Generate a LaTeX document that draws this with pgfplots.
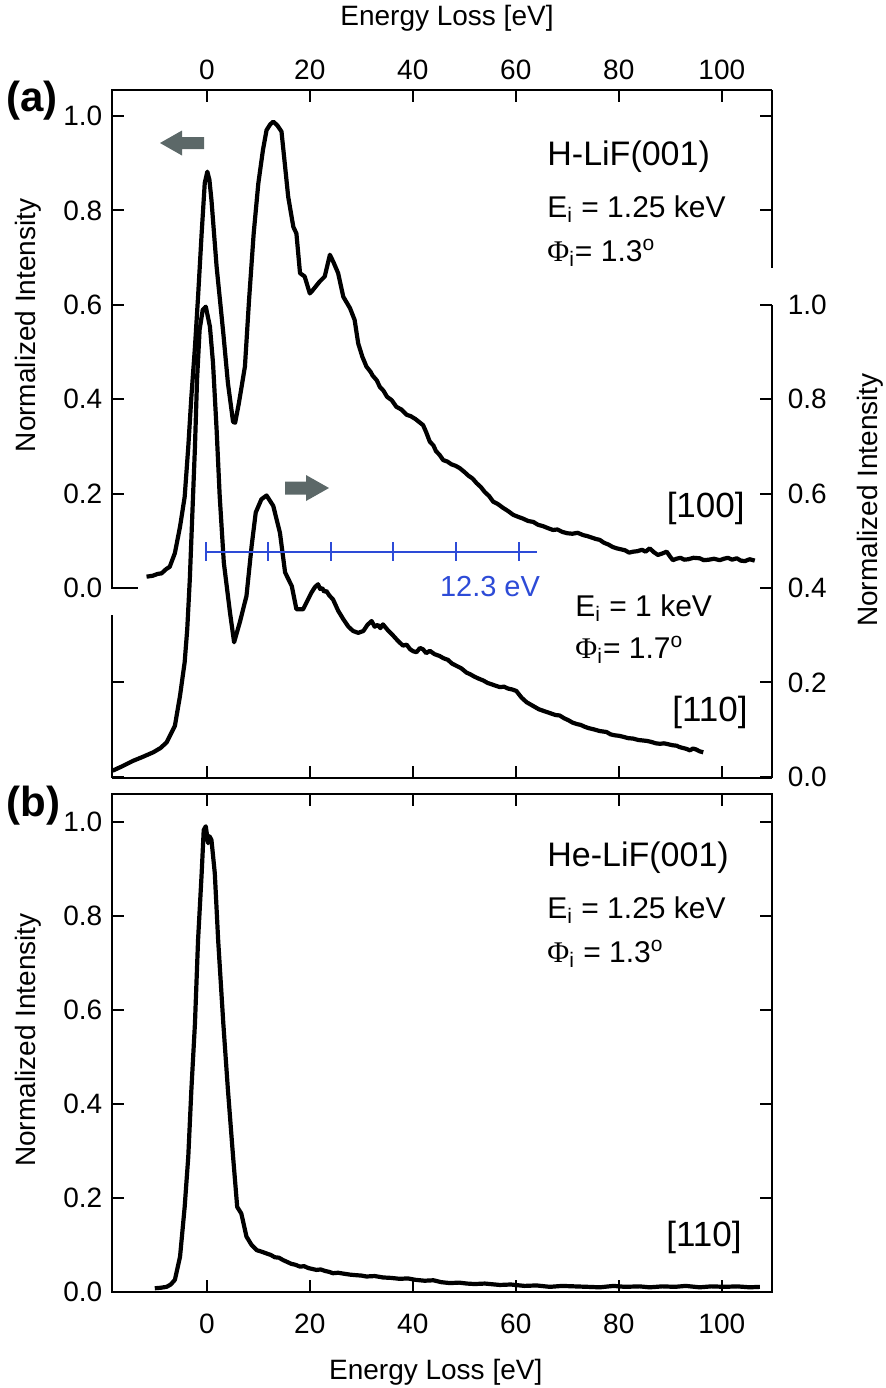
\documentclass[border=0pt]{standalone}
\usepackage{fontspec}
\setmainfont{Liberation Sans}
\newfontfamily\phifont{Liberation Serif}
\usepackage{pgfplots}
\usepackage{pgfplotstable}
\pgfplotsset{compat=1.18}

\definecolor{arrowgray}{RGB}{92,104,104}
\definecolor{combblue}{RGB}{45,75,215}

% H-LiF(001), [100], left scale
\pgfplotstableread{
E I
-11.7 0.024
-10.5 0.026
-9.5 0.030
-8.8 0.031
-7.9 0.040
-7.2 0.045
-6.2 0.074
-5.2 0.130
-4.3 0.193
-3.6 0.299
-3.0 0.405
-2.3 0.511
-1.7 0.617
-1.0 0.752
-0.4 0.858
0.1 0.882
0.5 0.865
0.9 0.822
1.9 0.681
3.2 0.540
4.1 0.434
5.1 0.352
5.5 0.350
6.2 0.390
7.4 0.469
8.2 0.610
9.1 0.751
10.0 0.857
10.9 0.928
11.6 0.970
12.3 0.982
12.9 0.988
13.7 0.980
14.5 0.967
15.2 0.893
15.8 0.829
16.8 0.765
17.4 0.751
18.1 0.667
19.0 0.660
20.0 0.624
20.5 0.630
21.9 0.649
22.9 0.660
23.9 0.706
24.6 0.690
25.5 0.667
26.5 0.617
27.8 0.593
28.7 0.568
29.4 0.518
30.2 0.490
31.0 0.469
31.8 0.458
32.2 0.450
33.0 0.440
33.6 0.426
34.3 0.418
35.0 0.405
35.9 0.398
36.8 0.384
37.8 0.378
38.8 0.367
39.6 0.364
40.5 0.358
41.2 0.352
42.0 0.345
42.6 0.330
43.3 0.310
44.0 0.302
44.5 0.290
45.2 0.282
45.9 0.271
46.7 0.268
47.5 0.262
48.3 0.259
49.1 0.254
50.0 0.246
50.8 0.238
51.6 0.232
52.4 0.222
53.2 0.214
54.0 0.203
54.8 0.195
55.6 0.183
56.5 0.178
57.5 0.170
58.5 0.163
59.5 0.155
60.4 0.151
61.4 0.147
62.4 0.142
63.4 0.140
64.3 0.134
65.3 0.131
66.2 0.127
67.2 0.123
68.1 0.124
69.0 0.119
70.0 0.116
71.0 0.115
72.0 0.117
73.1 0.112
73.9 0.110
74.7 0.107
75.5 0.104
76.3 0.102
77.1 0.096
78.0 0.092
78.8 0.087
79.6 0.084
80.4 0.082
81.2 0.080
82.0 0.075
82.8 0.077
83.6 0.078
84.5 0.081
85.2 0.077
86.0 0.084
86.8 0.076
87.6 0.070
88.4 0.073
89.3 0.077
90.0 0.066
90.5 0.059
91.2 0.062
92.0 0.064
92.7 0.060
93.5 0.061
94.5 0.064
95.7 0.063
96.5 0.059
97.5 0.060
98.5 0.062
99.6 0.059
100.4 0.062
101.2 0.064
102.0 0.060
102.9 0.063
103.7 0.058
104.5 0.057
105.4 0.061
106.4 0.058
}\hundredtab

% H-LiF(001), [110], right scale
\pgfplotstableread{
E I
-18.3 0.013
-16.5 0.022
-14.3 0.034
-12.5 0.042
-10.4 0.052
-9.0 0.061
-7.8 0.073
-6.2 0.108
-5.2 0.172
-4.3 0.243
-3.8 0.313
-3.3 0.419
-2.8 0.560
-2.3 0.700
-1.9 0.841
-1.4 0.947
-0.8 0.989
-0.2 0.996
0.6 0.954
1.2 0.877
1.9 0.736
2.5 0.595
3.3 0.454
4.5 0.348
5.3 0.285
6.4 0.327
7.7 0.383
8.7 0.489
9.5 0.560
10.6 0.588
11.6 0.596
12.9 0.574
14.2 0.517
15.2 0.433
16.5 0.404
17.4 0.355
18.7 0.355
20.3 0.390
21.0 0.402
21.6 0.408
22.0 0.398
22.4 0.400
22.8 0.392
23.2 0.394
23.8 0.384
24.5 0.376
25.5 0.352
26.5 0.334
27.5 0.318
28.4 0.309
29.4 0.305
30.4 0.309
31.2 0.322
32.0 0.330
32.6 0.318
33.2 0.322
33.7 0.315
34.2 0.323
35.2 0.310
36.2 0.299
37.2 0.287
38.1 0.278
38.8 0.280
39.5 0.270
40.1 0.266
40.7 0.264
41.4 0.273
42.0 0.270
42.6 0.262
43.3 0.267
44.2 0.260
45.2 0.256
46.0 0.251
46.8 0.248
47.6 0.240
48.5 0.235
49.4 0.230
50.4 0.221
51.2 0.217
52.0 0.212
52.8 0.208
53.7 0.204
54.5 0.199
55.3 0.196
56.1 0.193
56.9 0.190
57.7 0.191
58.5 0.187
59.3 0.185
60.1 0.182
61.1 0.168
62.1 0.158
62.9 0.153
63.7 0.148
64.5 0.143
65.3 0.140
66.1 0.137
66.9 0.134
67.7 0.131
68.5 0.130
69.4 0.124
70.2 0.120
71.0 0.115
71.8 0.112
72.6 0.110
73.4 0.106
74.2 0.103
75.0 0.101
76.3 0.097
77.6 0.095
78.4 0.090
79.2 0.088
80.0 0.087
80.8 0.085
81.8 0.082
82.8 0.081
83.8 0.078
84.7 0.077
85.5 0.076
86.3 0.074
87.2 0.071
88.0 0.070
88.8 0.071
89.6 0.069
90.4 0.067
91.2 0.066
91.8 0.063
92.5 0.061
93.2 0.059
93.8 0.056
94.4 0.060
95.0 0.058
95.7 0.054
96.4 0.052
}\oneonetab

% He-LiF(001), [110]
\pgfplotstableread{
E I
-10.1 0.008
-9.0 0.009
-7.8 0.011
-7.0 0.016
-6.2 0.026
-5.2 0.075
-4.3 0.181
-3.6 0.288
-3.0 0.430
-2.3 0.572
-1.7 0.749
-1.0 0.891
-0.6 0.983
-0.2 0.991
0.25 0.955
0.5 0.970
0.9 0.962
1.55 0.891
2.2 0.749
3.2 0.572
4.1 0.430
5.1 0.288
5.9 0.181
6.7 0.167
7.7 0.118
8.7 0.100
9.7 0.089
10.6 0.086
11.6 0.082
12.4 0.079
13.2 0.074
14.0 0.073
14.8 0.068
15.6 0.064
16.4 0.060
17.2 0.058
18.1 0.054
18.9 0.055
19.7 0.051
20.5 0.049
21.3 0.047
22.1 0.048
22.9 0.045
23.7 0.043
24.5 0.040
25.5 0.041
26.6 0.039
27.8 0.037
28.8 0.036
30.0 0.035
31.0 0.033
32.6 0.034
34.2 0.031
35.8 0.030
37.5 0.028
39.0 0.029
40.5 0.026
42.3 0.024
44.0 0.025
45.5 0.021
47.2 0.019
49.0 0.020
50.5 0.018
52.0 0.017
54.0 0.018
56.9 0.015
59.0 0.016
61.7 0.013
64.0 0.014
66.6 0.011
69.0 0.013
71.4 0.012
74.0 0.011
76.3 0.010
79.0 0.013
81.2 0.011
84.0 0.012
86.0 0.010
88.5 0.012
90.9 0.011
93.0 0.013
95.7 0.010
98.0 0.012
100.6 0.011
103.0 0.012
105.4 0.010
107.4 0.011
}\hetab

\begin{document}
\begin{tikzpicture}
\useasboundingbox (0,0) rectangle (443pt,-694pt);
\pgfplotsset{
  every axis/.append style={
    scale only axis, width=330pt,
    xmin=-18.47, xmax=109.69,
    xtick={0,20,...,100},
    ytick={0,0.2,...,1.0},
    axis line style={line width=1pt},
    every tick/.style={line width=1pt, black},
    major tick length=6pt,
    tick label style={font=\fontsize{14}{16}\selectfont},
    label style={font=\fontsize{14}{16}\selectfont},
    /pgf/number format/assume math mode=true,
    yticklabel style={/pgf/number format/fixed, /pgf/number format/fixed zerofill,
      /pgf/number format/precision=1},
  },
  curve/.style={black, line width=2.1pt, line join=round, no marks},
}

% (a) left scale, [100]
\begin{axis}[
  at={(55.85pt,-389pt)}, anchor=south west, height=344pt,
  ymin=-0.4025, ymax=1.055,
  separate axis lines, y axis line style={draw=none},
  xticklabel pos=upper,
  xticklabel style={yshift=1.8pt},
  yticklabel style={xshift=-1.2pt},
  xlabel={Energy Loss [eV]},
  xlabel style={at={(axis description cs:0.508,1.105)}, anchor=center},
  ylabel={Normalized Intensity},
  ylabel style={at={(axis description cs:-0.127,0.658)}, anchor=center},
]
\addplot[curve] table[x=E, y=I] {\hundredtab};
\end{axis}

% (a) right scale, [110]
\begin{axis}[
  at={(55.85pt,-389pt)}, anchor=south west, height=344pt,
  ymin=-0.0025, ymax=1.455,
  separate axis lines, x axis line style={draw=none}, y axis line style={draw=none},
  xtick=\empty,
  yticklabel pos=right,
  yticklabel style={xshift=4.5pt},
  ylabel={Normalized Intensity},
  ylabel style={at={(axis description cs:1.149,0.404)}, anchor=center},
]
\addplot[curve] table[x=E, y=I] {\oneonetab};
\end{axis}

% (b)
\begin{axis}[
  at={(55.85pt,-646pt)}, anchor=south west, height=249pt,
  ymin=0, ymax=1.0596,
  xticklabel style={yshift=-7.3pt},
  yticklabel style={xshift=-1.2pt},
  xlabel={Energy Loss [eV]},
  xlabel style={at={(axis description cs:0.491,-0.161)}, anchor=center},
  ylabel={Normalized Intensity},
  ylabel style={at={(axis description cs:-0.127,0.506)}, anchor=center},
]
\addplot[curve] table[x=E, y=I] {\hetab};
\end{axis}

\begin{scope}[x=0.5pt, y=-0.5pt, every node/.style={inner sep=0pt}]
  % broken y axis lines of panel (a)
  \draw[line width=1pt, line cap=rect] (111.7,90) -- (111.7,588) -- (136.7,588);
  \draw[line width=1pt] (111.7,615) -- (111.7,778);
  \draw[line width=1pt] (771.7,90) -- (771.7,268);
  \draw[line width=1pt] (771.7,305) -- (771.7,778);
  % arrows
  \fill[arrowgray] (160,143) -- (182,130.5) -- (182,137) -- (204,137) -- (204,149)
    -- (182,149) -- (182,155.5) -- cycle;
  \fill[arrowgray] (329,488) -- (306,475) -- (306,481.5) -- (285,481.5) -- (285,494.5)
    -- (306,494.5) -- (306,501) -- cycle;
  % 12.3 eV comb
  \draw[combblue, line width=0.6pt] (206,552) -- (537,552);
  \foreach \t in {206,268,331,393,456,519}
    \draw[combblue, line width=1pt] (\t,542) -- (\t,561);
  \node[combblue, font=\fontsize{14.5}{16}\selectfont] at (490,587) {12.3 eV};
  % panel (a) texts
  \node[font=\bfseries\fontsize{21}{23}\selectfont, anchor=west] at (6,101) {(a)};
  \node[font=\fontsize{17}{19}\selectfont, anchor=west] at (547,157) {H-LiF(001)};
  \node[font=\fontsize{15}{17}\selectfont, anchor=west] at (547,209) {E\textsubscript{i} = 1.25 keV};
  \node[font=\fontsize{15}{17}\selectfont, anchor=west] at (547,253) {{\phifont Φ}\textsubscript{i}= 1.3\textsuperscript{o}};
  \node[font=\fontsize{17.5}{19}\selectfont, anchor=east] at (745,508) {[100]};
  \node[font=\fontsize{15}{17}\selectfont, anchor=west] at (575,608) {E\textsubscript{i} = 1 keV};
  \node[font=\fontsize{15}{17}\selectfont, anchor=west] at (575,650) {{\phifont Φ}\textsubscript{i}= 1.7\textsuperscript{o}};
  \node[font=\fontsize{17.5}{19}\selectfont, anchor=east] at (748,712) {[110]};
  % panel (b) texts
  \node[font=\bfseries\fontsize{21}{23}\selectfont, anchor=west] at (6,806) {(b)};
  \node[font=\fontsize{17}{19}\selectfont, anchor=west] at (547,858) {He-LiF(001)};
  \node[font=\fontsize{15}{17}\selectfont, anchor=west] at (547,910) {E\textsubscript{i} = 1.25 keV};
  \node[font=\fontsize{15}{17}\selectfont, anchor=west] at (547,954) {{\phifont Φ}\textsubscript{i} = 1.3\textsuperscript{o}};
  \node[font=\fontsize{17.5}{19}\selectfont, anchor=east] at (742,1237) {[110]};
\end{scope}
\end{tikzpicture}
\end{document}
